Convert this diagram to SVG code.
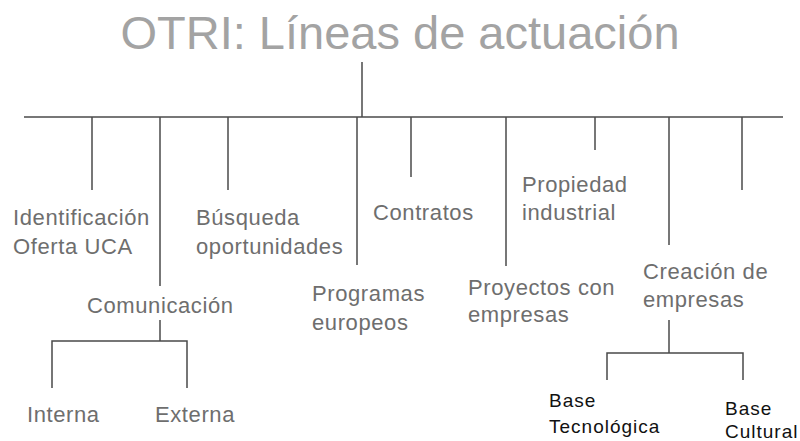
<svg xmlns="http://www.w3.org/2000/svg" width="800" height="441" viewBox="0 0 800 441">
<style>
.t{font-family:"Liberation Sans",Arial,sans-serif;font-size:22px;fill:#6e6e6e;letter-spacing:0.6px}
.b{font-family:"Liberation Sans",Arial,sans-serif;font-size:19px;fill:#111;letter-spacing:1px}
.title{font-family:"Liberation Sans",Arial,sans-serif;font-size:47px;fill:#a3a3a3}
.c{stroke:#4a4a4a;stroke-width:1.5;fill:none}
</style>
<rect width="800" height="441" fill="#fff"/>
<g id="title"><text class="title" x="400" y="49" text-anchor="middle">OTRI: Líneas de actuación</text></g>
<g id="connectors" class="c">
<line x1="362" y1="62" x2="362" y2="117"/>
<line x1="24" y1="117" x2="783" y2="117"/>
<line x1="92" y1="117" x2="92" y2="190"/>
<line x1="160" y1="117" x2="160" y2="286"/>
<line x1="228" y1="117" x2="228" y2="190"/>
<line x1="357" y1="117" x2="357" y2="265"/>
<line x1="411" y1="117" x2="411" y2="177"/>
<line x1="506" y1="117" x2="506" y2="266"/>
<line x1="595" y1="117" x2="595" y2="150"/>
<line x1="669" y1="117" x2="669" y2="245"/>
<line x1="742" y1="117" x2="742" y2="190"/>
<polyline points="160,320 160,341"/>
<polyline points="52,388 52,341 187,341 187,388"/>
<polyline points="669,320 669,353"/>
<polyline points="607,380 607,353 743,353 743,380"/>
</g>
<g id="identificacion"><text class="t" x="13" y="225">Identificación</text><text class="t" x="13" y="254">Oferta UCA</text></g>
<g id="comunicacion"><text class="t" x="87" y="313">Comunicación</text></g>
<g id="busqueda"><text class="t" x="196" y="225">Búsqueda</text><text class="t" x="196" y="254">oportunidades</text></g>
<g id="programas"><text class="t" x="312" y="301">Programas</text><text class="t" x="312" y="330">europeos</text></g>
<g id="contratos"><text class="t" x="373" y="220">Contratos</text></g>
<g id="propiedad"><text class="t" x="522" y="192">Propiedad</text><text class="t" x="522" y="220">industrial</text></g>
<g id="proyectos"><text class="t" x="468" y="295">Proyectos con</text><text class="t" x="468" y="322">empresas</text></g>
<g id="creacion"><text class="t" x="643" y="279">Creación de</text><text class="t" x="643" y="307">empresas</text></g>
<g id="interna"><text class="t" x="27" y="422">Interna</text></g>
<g id="externa"><text class="t" x="155" y="422">Externa</text></g>
<g id="base-tecnologica"><text class="b" x="549" y="407">Base</text><text class="b" x="549" y="433">Tecnológica</text></g>
<g id="base-cultural"><text class="b" x="725" y="415">Base</text><text class="b" x="725" y="438">Cultural</text></g>
</svg>
